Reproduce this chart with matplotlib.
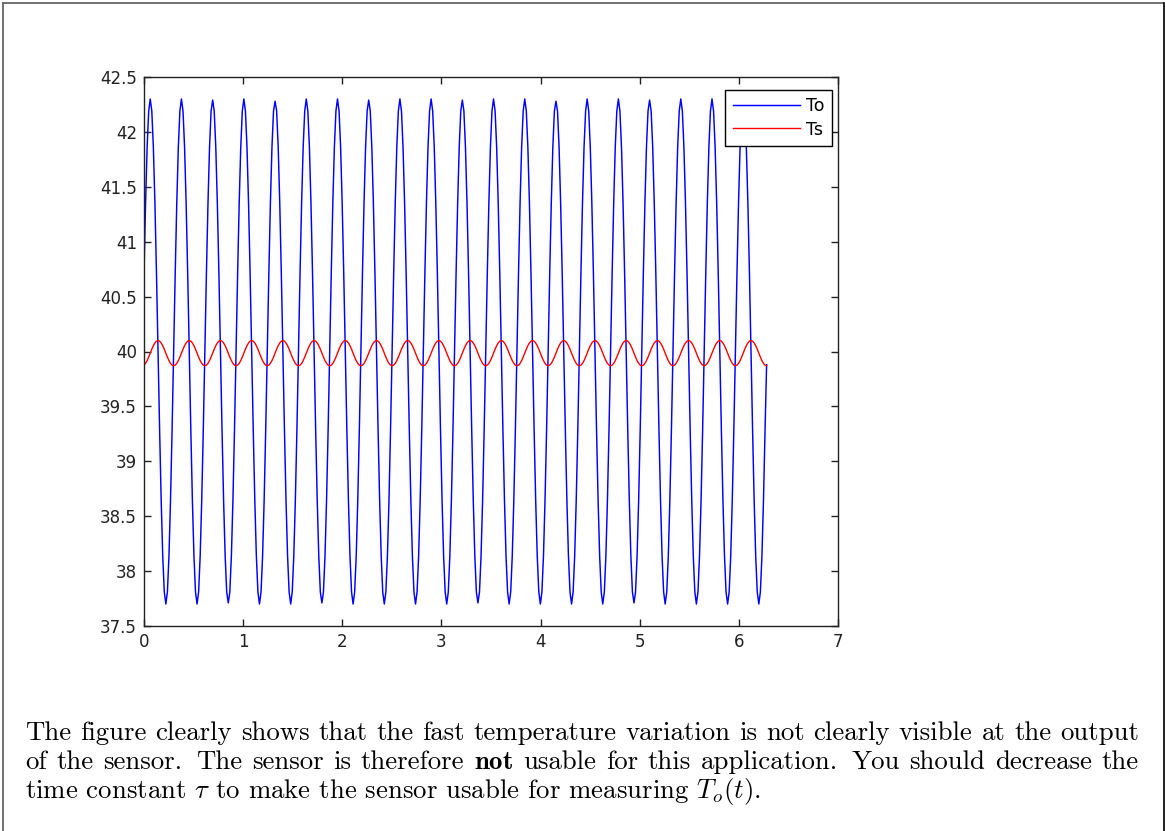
import numpy as np
import matplotlib
matplotlib.use("Agg")
import matplotlib.pyplot as plt
from matplotlib.lines import Line2D

# ---------------- data ----------------
t_start, t_end, n_samples = 0.0, 6.28, 400

To_values = [
    40.71, 41.35, 41.86, 42.19, 42.30, 42.19, 41.86, 41.35, 40.71, 40.00, 39.29, 38.65, 38.14, 37.81, 37.70, 37.81, 38.14, 38.65, 39.29, 40.00,
    40.71, 41.35, 41.86, 42.19, 42.30, 42.19, 41.86, 41.35, 40.71, 40.00, 39.29, 38.65, 38.14, 37.81, 37.70, 37.81, 38.14, 38.65, 39.29, 40.00,
    40.71, 41.35, 41.86, 42.19, 42.29, 42.19, 41.86, 41.35, 40.71, 40.00, 39.29, 38.65, 38.14, 37.81, 37.71, 37.81, 38.14, 38.65, 39.29, 40.00,
    40.71, 41.35, 41.86, 42.19, 42.30, 42.19, 41.86, 41.35, 40.71, 40.00, 39.29, 38.65, 38.14, 37.81, 37.70, 37.81, 38.14, 38.65, 39.29, 40.00,
    40.71, 41.35, 41.86, 42.19, 42.28, 42.19, 41.86, 41.35, 40.71, 40.00, 39.29, 38.65, 38.14, 37.81, 37.70, 37.81, 38.14, 38.65, 39.29, 40.00,
    40.71, 41.35, 41.86, 42.19, 42.30, 42.19, 41.86, 41.35, 40.71, 40.00, 39.29, 38.65, 38.14, 37.81, 37.71, 37.81, 38.14, 38.65, 39.29, 40.00,
    40.71, 41.35, 41.86, 42.19, 42.30, 42.19, 41.86, 41.35, 40.71, 40.00, 39.29, 38.65, 38.14, 37.81, 37.70, 37.81, 38.14, 38.65, 39.29, 40.00,
    40.71, 41.35, 41.86, 42.19, 42.29, 42.19, 41.86, 41.35, 40.71, 40.00, 39.29, 38.65, 38.14, 37.81, 37.70, 37.81, 38.14, 38.65, 39.29, 40.00,
    40.71, 41.35, 41.86, 42.19, 42.30, 42.19, 41.86, 41.35, 40.71, 40.00, 39.29, 38.65, 38.14, 37.81, 37.70, 37.81, 38.14, 38.65, 39.29, 40.00,
    40.71, 41.35, 41.86, 42.19, 42.30, 42.19, 41.86, 41.35, 40.71, 40.00, 39.29, 38.65, 38.14, 37.81, 37.70, 37.81, 38.14, 38.65, 39.29, 40.00,
    40.71, 41.35, 41.86, 42.19, 42.29, 42.19, 41.86, 41.35, 40.71, 40.00, 39.29, 38.65, 38.14, 37.81, 37.71, 37.81, 38.14, 38.65, 39.29, 40.00,
    40.71, 41.35, 41.86, 42.19, 42.30, 42.19, 41.86, 41.35, 40.71, 40.00, 39.29, 38.65, 38.14, 37.81, 37.70, 37.81, 38.14, 38.65, 39.29, 40.00,
    40.71, 41.35, 41.86, 42.19, 42.30, 42.19, 41.86, 41.35, 40.71, 40.00, 39.29, 38.65, 38.14, 37.81, 37.70, 37.81, 38.14, 38.65, 39.29, 40.00,
    40.71, 41.35, 41.86, 42.19, 42.28, 42.19, 41.86, 41.35, 40.71, 40.00, 39.29, 38.65, 38.14, 37.81, 37.70, 37.81, 38.14, 38.65, 39.29, 40.00,
    40.71, 41.35, 41.86, 42.19, 42.30, 42.19, 41.86, 41.35, 40.71, 40.00, 39.29, 38.65, 38.14, 37.81, 37.70, 37.81, 38.14, 38.65, 39.29, 40.00,
    40.71, 41.35, 41.86, 42.19, 42.30, 42.19, 41.86, 41.35, 40.71, 40.00, 39.29, 38.65, 38.14, 37.81, 37.71, 37.81, 38.14, 38.65, 39.29, 40.00,
    40.71, 41.35, 41.86, 42.19, 42.29, 42.19, 41.86, 41.35, 40.71, 40.00, 39.29, 38.65, 38.14, 37.81, 37.70, 37.81, 38.14, 38.65, 39.29, 40.00,
    40.71, 41.35, 41.86, 42.19, 42.30, 42.19, 41.86, 41.35, 40.71, 40.00, 39.29, 38.65, 38.14, 37.81, 37.70, 37.81, 38.14, 38.65, 39.29, 40.00,
    40.71, 41.35, 41.86, 42.19, 42.30, 42.19, 41.86, 41.35, 40.71, 40.00, 39.29, 38.65, 38.14, 37.81, 37.70, 37.81, 38.14, 38.65, 39.29, 40.00,
    40.71, 41.35, 41.86, 42.19, 42.29, 42.19, 41.86, 41.35, 40.71, 40.00, 39.29, 38.65, 38.14, 37.81, 37.70, 37.81, 38.14, 38.65, 39.29, 39.88,
]

Ts_values = [
    39.876, 39.892, 39.917, 39.949, 39.985, 40.021, 40.053, 40.078, 40.094, 40.100, 40.094, 40.078, 40.053, 40.021, 39.985, 39.949, 39.917, 39.892, 39.876, 39.870,
    39.876, 39.892, 39.917, 39.949, 39.985, 40.021, 40.053, 40.078, 40.094, 40.100, 40.094, 40.078, 40.053, 40.021, 39.985, 39.949, 39.917, 39.892, 39.876, 39.870,
    39.876, 39.892, 39.917, 39.949, 39.985, 40.021, 40.053, 40.078, 40.094, 40.100, 40.094, 40.078, 40.053, 40.021, 39.985, 39.949, 39.917, 39.892, 39.876, 39.870,
    39.876, 39.892, 39.917, 39.949, 39.985, 40.021, 40.053, 40.078, 40.094, 40.100, 40.094, 40.078, 40.053, 40.021, 39.985, 39.949, 39.917, 39.892, 39.876, 39.870,
    39.876, 39.892, 39.917, 39.949, 39.985, 40.021, 40.053, 40.078, 40.094, 40.100, 40.094, 40.078, 40.053, 40.021, 39.985, 39.949, 39.917, 39.892, 39.876, 39.870,
    39.876, 39.892, 39.917, 39.949, 39.985, 40.021, 40.053, 40.078, 40.094, 40.100, 40.094, 40.078, 40.053, 40.021, 39.985, 39.949, 39.917, 39.892, 39.876, 39.870,
    39.876, 39.892, 39.917, 39.949, 39.985, 40.021, 40.053, 40.078, 40.094, 40.100, 40.094, 40.078, 40.053, 40.021, 39.985, 39.949, 39.917, 39.892, 39.876, 39.870,
    39.876, 39.892, 39.917, 39.949, 39.985, 40.021, 40.053, 40.078, 40.094, 40.100, 40.094, 40.078, 40.053, 40.021, 39.985, 39.949, 39.917, 39.892, 39.876, 39.870,
    39.876, 39.892, 39.917, 39.949, 39.985, 40.021, 40.053, 40.078, 40.094, 40.100, 40.094, 40.078, 40.053, 40.021, 39.985, 39.949, 39.917, 39.892, 39.876, 39.870,
    39.876, 39.892, 39.917, 39.949, 39.985, 40.021, 40.053, 40.078, 40.094, 40.100, 40.094, 40.078, 40.053, 40.021, 39.985, 39.949, 39.917, 39.892, 39.876, 39.870,
    39.876, 39.892, 39.917, 39.949, 39.985, 40.021, 40.053, 40.078, 40.094, 40.100, 40.094, 40.078, 40.053, 40.021, 39.985, 39.949, 39.917, 39.892, 39.876, 39.870,
    39.876, 39.892, 39.917, 39.949, 39.985, 40.021, 40.053, 40.078, 40.094, 40.100, 40.094, 40.078, 40.053, 40.021, 39.985, 39.949, 39.917, 39.892, 39.876, 39.870,
    39.876, 39.892, 39.917, 39.949, 39.985, 40.021, 40.053, 40.078, 40.094, 40.100, 40.094, 40.078, 40.053, 40.021, 39.985, 39.949, 39.917, 39.892, 39.876, 39.870,
    39.876, 39.892, 39.917, 39.949, 39.985, 40.021, 40.053, 40.078, 40.094, 40.100, 40.094, 40.078, 40.053, 40.021, 39.985, 39.949, 39.917, 39.892, 39.876, 39.870,
    39.876, 39.892, 39.917, 39.949, 39.985, 40.021, 40.053, 40.078, 40.094, 40.100, 40.094, 40.078, 40.053, 40.021, 39.985, 39.949, 39.917, 39.892, 39.876, 39.870,
    39.876, 39.892, 39.917, 39.949, 39.985, 40.021, 40.053, 40.078, 40.094, 40.100, 40.094, 40.078, 40.053, 40.021, 39.985, 39.949, 39.917, 39.892, 39.876, 39.870,
    39.876, 39.892, 39.917, 39.949, 39.985, 40.021, 40.053, 40.078, 40.094, 40.100, 40.094, 40.078, 40.053, 40.021, 39.985, 39.949, 39.917, 39.892, 39.876, 39.870,
    39.876, 39.892, 39.917, 39.949, 39.985, 40.021, 40.053, 40.078, 40.094, 40.100, 40.094, 40.078, 40.053, 40.021, 39.985, 39.949, 39.917, 39.892, 39.876, 39.870,
    39.876, 39.892, 39.917, 39.949, 39.985, 40.021, 40.053, 40.078, 40.094, 40.100, 40.094, 40.078, 40.053, 40.021, 39.985, 39.949, 39.917, 39.892, 39.876, 39.870,
    39.876, 39.892, 39.917, 39.949, 39.985, 40.021, 40.053, 40.078, 40.094, 40.100, 40.094, 40.078, 40.053, 40.021, 39.985, 39.949, 39.917, 39.892, 39.876, 39.870,
]

series_labels = ["To", "Ts"]
x_ticks = [0, 1, 2, 3, 4, 5, 6, 7]
x_tick_labels = ["0", "1", "2", "3", "4", "5", "6", "7"]
y_ticks = [37.5, 38, 38.5, 39, 39.5, 40, 40.5, 41, 41.5, 42, 42.5]
y_tick_labels = ["37.5", "38", "38.5", "39", "39.5", "40", "40.5", "41", "41.5", "42", "42.5"]

caption_line1 = "The figure clearly shows that the fast temperature variation is not clearly visible at the output"
caption_line2 = r"of the sensor.  The sensor is therefore $\mathbf{not}$ usable for this application.  You should decrease the"
caption_line3 = r"time constant $\tau$ to make the sensor usable for measuring $T_o(t)$."

# ---------------- figure ----------------
W, H = 1165, 831
plt.rcParams["mathtext.fontset"] = "cm"
fig = plt.figure(figsize=(W / 100, H / 100), dpi=100)

def px(x, y):
    return x / W, 1 - y / H

# page border
for (x0, y0, x1, y1, c) in [(2.5, 2.5, 1163, 2.5, "#666666"),
                            (2.5, 2.5, 2.5, 831, "#666666"),
                            (1163.5, 2.5, 1163.5, 831, "#111111")]:
    a, b = px(x0, y0)
    c2, d = px(x1, y1)
    fig.add_artist(Line2D([a, c2], [b, d], color=c, lw=1.3))

ax_l, ax_r, ax_t, ax_b = 144, 838, 77, 626
ax = fig.add_axes([ax_l / W, 1 - ax_b / H, (ax_r - ax_l) / W, (ax_b - ax_t) / H])

t = np.linspace(t_start, t_end, n_samples)
ax.plot(t, To_values, color=(0, 0, 1), lw=1.05, label=series_labels[0])
ax.plot(t, Ts_values, color=(1, 0, 0), lw=1.0, label=series_labels[1])

ax.set_xlim(0, 7)
ax.set_ylim(37.5, 42.5)
ax.set_xticks(x_ticks)
ax.set_xticklabels(x_tick_labels)
ax.set_yticks(y_ticks)
ax.set_yticklabels(y_tick_labels)
ax.tick_params(direction="in", length=5, width=1, top=True, right=True,
               labelsize=12, colors="#222222", pad=5)
for s in ax.spines.values():
    s.set_color("#222222")
    s.set_linewidth(1.0)

leg = ax.legend(loc="upper right", bbox_to_anchor=((832 - ax_l) / (ax_r - ax_l), (ax_b - 89.5) / (ax_b - ax_t)),
                borderaxespad=0, fancybox=False, shadow=False, framealpha=1,
                edgecolor="black", fontsize=12.5, handlelength=3.9, handletextpad=0.3,
                borderpad=0.45, labelspacing=0.3)
leg.get_frame().set_linewidth(1.0)

# ---------------- caption (justified) ----------------
fs = 19.3
cap_font = dict(family="cmr10", fontsize=fs, color="black")
x_left, x_right = 25, 1139
baselines = [740, 769, 798]

renderer = fig.canvas.get_renderer()

def place_justified(line, ybase):
    words = line.replace("  ", " @ ").split(" ")
    arts, widths, gaps = [], [], []
    prev_word = False
    pending_wide = False
    for it in words:
        if it == "@":
            pending_wide = True
            continue
        txt = fig.text(0, 1 - ybase / H, it, va="baseline", ha="left", **cap_font)
        bb = txt.get_window_extent(renderer)
        arts.append(txt)
        widths.append(bb.width)
        if prev_word:
            gaps.append(1.35 if pending_wide else 1.0)
        pending_wide = False
        prev_word = True
    total = sum(widths)
    unit = (x_right - x_left - total) / sum(gaps)
    x = x_left
    for i, a in enumerate(arts):
        a.set_x(x / W)
        x += widths[i]
        if i < len(gaps):
            x += gaps[i] * unit

place_justified(caption_line1, baselines[0])
place_justified(caption_line2, baselines[1])
fig.text(x_left / W, 1 - baselines[2] / H, caption_line3, va="baseline", ha="left", **cap_font)

fig.savefig("out.png", dpi=100)
